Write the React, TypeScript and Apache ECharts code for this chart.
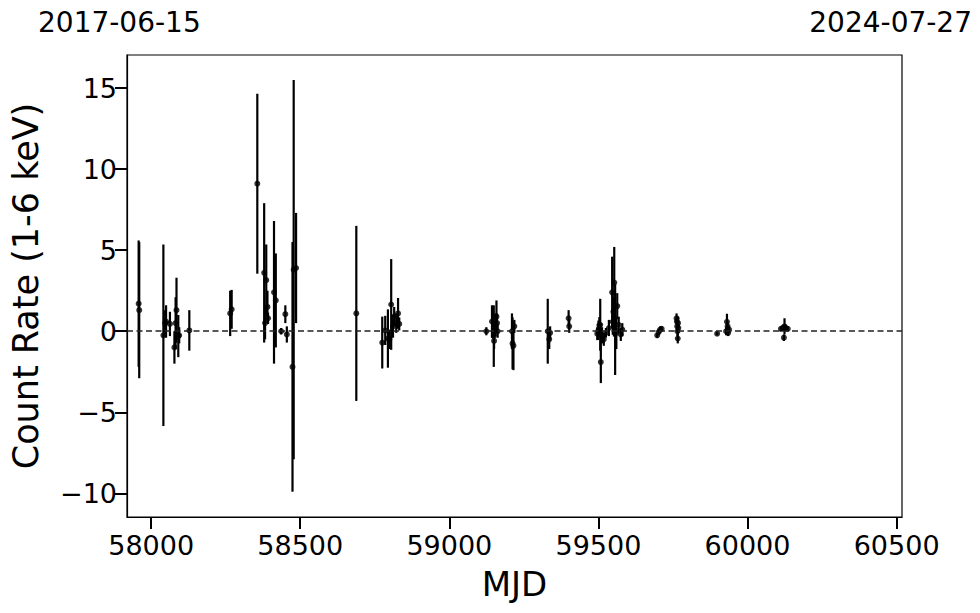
import React, { useEffect, useRef } from "react";
import * as echarts from "echarts";

// MJD of each observation
const mjd: number[] = [
  57958, 57960,
  58041, 58047, 58050, 58063, 58078, 58082, 58085, 58091, 58094, 58128,
  58265, 58270,
  58356, 58379, 58382, 58386, 58390, 58392, 58412, 58418, 58436, 58450, 58455, 58474, 58478, 58486,
  58688,
  58775, 58785, 58794, 58799, 58805, 58811, 58815, 58822, 58828, 58832,
  59124, 59143, 59149, 59150, 59152, 59155, 59158, 59160, 59162, 59210, 59212, 59215, 59218,
  59330, 59335, 59338,
  59400, 59402,
  59496, 59500, 59503, 59506, 59508, 59512, 59518, 59525, 59535, 59546, 59548, 59550, 59552, 59553, 59556, 59560, 59563, 59568, 59575, 59580,
  59697, 59702, 59707, 59712,
  59762, 59763, 59764, 59765, 59766, 59767, 59768,
  59898,
  59928, 59931, 59933, 59935, 59938,
  60112, 60118, 60122, 60124, 60128, 60135,
];

// count rate (1-6 keV)
const rate: number[] = [
  1.7, 1.3,
  -0.25, 0.5, 0.6, 0.45, -1.0, 0.5, 1.3, -0.3, -0.25, 0.05,
  1.1, 1.35,
  9.1, 3.6, 0.5, 3.15, 1.5, 0.8, 2.4, 1.9, 0.0, 1.05, -0.2, -2.2, 3.8, 3.9,
  1.1,
  -0.7, 0.05, -0.45, -0.5, 1.65, 0.3, 0.9, 0.5, 1.1, 0.45,
  0.0, 0.6, -0.3, -0.6, 0.15, 0.4, 0.9, 0.5, 0.0, 0.0, -0.75, -0.9, 0.3,
  0.0, -0.5, -0.1,
  0.8, 0.3,
  -0.15, 0.06, 0.37, 0.4, -1.9, -0.25, -0.5, -0.1, 0.2, 2.4, 0.58, 1.2, 0.27, 3.0, 0.1, -0.1, 1.55, 0.4, -0.2, 0.1,
  -0.25, -0.05, 0.1, 0.15,
  0.8, 0.6, 0.3, 0.0, -0.45, 0.5, 0.2,
  -0.15,
  0.0, 0.58, 0.3, -0.1, 0.1,
  0.15, 0.2, -0.4, 0.3, 0.2, 0.15,
];

// 1-sigma error on the count rate
const rateErr: number[] = [
  3.9, 4.2,
  5.6, 0.8, 1.0, 0.75, 1.0, 1.6, 2.0, 1.3, 0.5, 1.25,
  1.4, 1.2,
  5.55, 4.3, 1.0, 2.2, 1.0, 0.35, 4.4, 2.9, 0.2, 0.55, 0.5, 7.7, 11.7, 3.4,
  5.4,
  1.6, 0.9, 1.8, 0.6, 2.8, 0.7, 0.6, 0.6, 0.95, 0.4,
  0.25, 1.0, 1.9, 0.5, 0.5, 0.7, 1.0, 0.6, 0.4, 1.1, 1.6, 1.5, 0.4,
  2.0, 0.6, 0.4,
  0.5, 0.4,
  0.4, 0.6, 0.5, 1.6, 1.3, 0.5, 0.4, 0.3, 0.5, 2.2, 0.8, 0.9, 0.6, 2.2, 2.8, 1.0, 0.8, 0.5, 0.4, 0.4,
  0.15, 0.2, 0.2, 0.15,
  0.3, 0.3, 0.3, 0.3, 0.3, 0.4, 0.3,
  0.1,
  0.25, 0.5, 0.3, 0.2, 0.2,
  0.15, 0.2, 0.2, 0.5, 0.2, 0.15,
];

const xTicks: number[] = [58000, 58500, 59000, 59500, 60000, 60500];
const yTicks: number[] = [-10, -5, 0, 5, 10, 15];
const startDate = "2017-06-15";
const endDate = "2024-07-27";

const FONT = "DejaVu Sans";

export default function App() {
  const ref = useRef<HTMLDivElement>(null);
  useEffect(() => {
    document.body.style.margin = "0";
    if (!ref.current) return;
    const chart = echarts.init(ref.current, undefined, { renderer: "svg" });
    const points = mjd.map((m, i) => [m, rate[i]]);
    const bars = mjd.map((m, i) => [m, rate[i] - rateErr[i], rate[i] + rateErr[i]]);
    chart.setOption({
      animation: false,
      backgroundColor: "#ffffff",
      grid: { left: 127, right: 78, top: 55, bottom: 96, show: true, borderColor: "#000", borderWidth: 1.2 },
      xAxis: {
        type: "value",
        min: 57919,
        max: 60518,
        name: "MJD",
        nameLocation: "middle",
        nameGap: 50,
        nameTextStyle: { fontFamily: FONT, fontSize: 34, color: "#000" },
        splitLine: { show: false },
        axisLine: { show: true, onZero: false, lineStyle: { color: "#000", width: 1.2 } },
        axisTick: { show: true, length: 12, lineStyle: { color: "#000", width: 2 }, customValues: xTicks },
        axisLabel: {
          fontFamily: FONT, fontSize: 27, color: "#000", margin: 15, customValues: xTicks,
          formatter: (v: number) => String(v),
        },
      },
      yAxis: {
        type: "value",
        min: -11.46,
        max: 17.04,
        name: "Count Rate (1-6 keV)",
        nameLocation: "middle",
        nameGap: 84,
        nameRotate: 90,
        nameTextStyle: { fontFamily: FONT, fontSize: 35, color: "#000" },
        splitLine: { show: false },
        axisLine: { show: true, onZero: false, lineStyle: { color: "#000", width: 1.2 } },
        axisTick: { show: true, length: 12, lineStyle: { color: "#000", width: 2 }, customValues: yTicks },
        axisLabel: {
          fontFamily: FONT, fontSize: 27, color: "#000", margin: 10, customValues: yTicks,
          formatter: (v: number) => (v < 0 ? "\u2212" + Math.abs(v) : String(v)),
        },
      },
      graphic: [
        { type: "text", left: 38, top: 8, style: { text: startDate, fontFamily: FONT, fontSize: 28, fill: "#000" } },
        { type: "text", right: 8, top: 8, style: { text: endDate, fontFamily: FONT, fontSize: 28, fill: "#000" } },
      ],
      series: [
        {
          type: "custom",
          data: bars,
          encode: { x: 0, y: [1, 2] },
          clip: true,
          renderItem: (params: any, api: any) => {
            const x = api.value(0);
            const p1 = api.coord([x, api.value(1)]);
            const p2 = api.coord([x, api.value(2)]);
            return {
              type: "line",
              shape: { x1: p1[0], y1: p1[1], x2: p2[0], y2: p2[1] },
              style: { stroke: "#000", lineWidth: 2.2 },
            };
          },
          z: 2,
        },
        {
          type: "scatter",
          data: points,
          symbol: "circle",
          symbolSize: 6,
          itemStyle: { color: "#000" },
          z: 3,
          markLine: {
            silent: true,
            symbol: "none",
            label: { show: false },
            lineStyle: { color: "#222", type: [6, 3.5], width: 1.5 },
            data: [{ yAxis: 0 }],
          },
        },
      ],
    });
    return () => chart.dispose();
  }, []);
  return <div ref={ref} style={{ width: 980, height: 613 }} />;
}
